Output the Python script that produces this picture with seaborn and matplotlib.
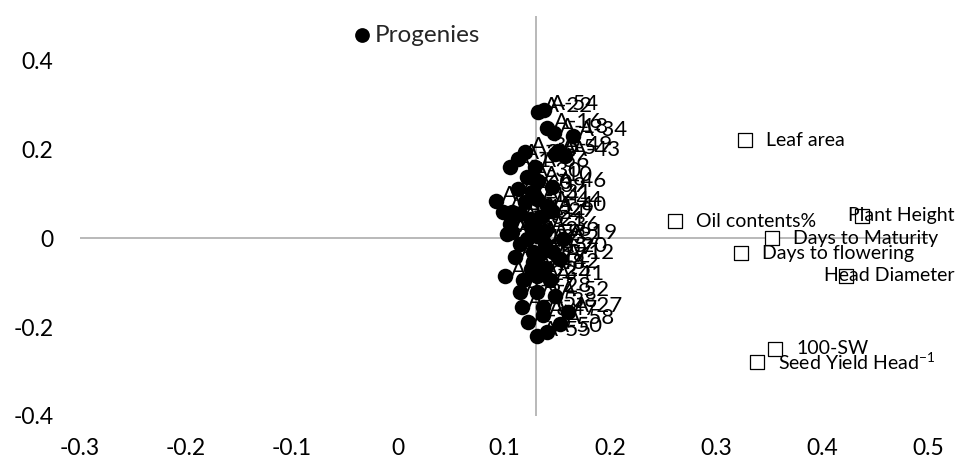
import matplotlib
matplotlib.use("Agg")
import matplotlib.pyplot as plt
import seaborn as sns
import pandas as pd

# ---------------- data ----------------
prog_x = [0.132, 0.138, 0.141, 0.165, 0.151, 0.158, 0.120, 0.113, 0.106, 0.122,
          0.132, 0.092, 0.126, 0.131, 0.120, 0.141, 0.145, 0.099, 0.108, 0.115,
          0.125, 0.134, 0.108, 0.125, 0.131, 0.103, 0.139, 0.156, 0.127, 0.146,
          0.127, 0.115, 0.139, 0.101, 0.118, 0.131, 0.143, 0.115, 0.131, 0.117,
          0.137, 0.137, 0.160, 0.153, 0.131, 0.141, 0.125, 0.139, 0.110, 0.123,
          0.148, 0.106, 0.129, 0.145, 0.153, 0.134, 0.122, 0.113, 0.147, 0.148]
prog_y = [0.285, 0.289, 0.249, 0.231, 0.197, 0.185, 0.194, 0.179, 0.160, 0.138,
          0.129, 0.084, 0.104, 0.088, 0.081, 0.072, 0.061, 0.059, 0.059, 0.054,
          0.043, 0.047, 0.014, 0.027, 0.005, 0.009, 0.016, -0.002, -0.032, -0.032,
          -0.054, -0.014, -0.014, -0.086, -0.093, -0.086, -0.093, -0.120, -0.120, -0.154,
          -0.154, -0.172, -0.165, -0.194, -0.221, -0.212, -0.070, -0.066, -0.043, -0.188,
          -0.131, 0.032, 0.160, 0.115, -0.047, -0.036, -0.002, 0.111, 0.236, 0.190]
prog_labels = ["A-22", "A-54", "A-16", "A-34", "A-49", "A-43", "A-33", "A-3", "A-1", "A-30",
               "A-10", "A-8", "A-39", "A-31", "A-14", "A-44", "A-40", "A-15", "A-2", "A-11",
               "A-24", "A-29", "A-6", "A-21", "A-26", "A-7", "A-36", "A-19", "A-35", "A-20",
               "A-17", "A-13", "A-32", "A-4", "A-23", "A-25", "A-41", "A-37", "A-28", "A-45",
               "A-38", "A-47", "A-27", "A-58", "A-55", "A-50", "A-48", "A-42", "A-51", "A-9",
               "A-52", "A-53", "A-56", "A-46", "A-12", "A-57", "A-59", "A-60", "A-18", "A-5"]

trait_names = ["Leaf area", "Oil contents%", "Plant Height", "Days to Maturity",
               "Days to flowering", "Head Diameter", "100-SW",
               r"Seed Yield Head$^{\mathregular{-1}}$"]
trait_x = [0.327, 0.261, 0.438, 0.353, 0.324, 0.423, 0.356, 0.339]
trait_y = [0.221, 0.038, 0.050, 0.000, -0.034, -0.084, -0.249, -0.278]

x_ticks = [-0.3, -0.2, -0.1, 0, 0.1, 0.2, 0.3, 0.4, 0.5]
y_ticks = [-0.4, -0.2, 0, 0.2, 0.4]
x_tick_labels = ["-0.3", "-0.2", "-0.1", "0", "0.1", "0.2", "0.3", "0.4", "0.5"]
y_tick_labels = ["-0.4", "-0.2", "0", "0.2", "0.4"]
v_axis_cross = 0.13

# ---------------- style ----------------
sns.set_style("white")
plt.rcParams["font.family"] = ["Lato", "DejaVu Sans"]
plt.rcParams["mathtext.fontset"] = "custom"
plt.rcParams["mathtext.rm"] = "Lato"

W, H = 959, 461
fig = plt.figure(figsize=(W / 100, H / 100), dpi=100)
ax = fig.add_axes([80 / W, 1 - 416 / H, (928 - 80) / W, (416 - 16) / H])

prog_df = pd.DataFrame({"x": prog_x, "y": prog_y, "label": prog_labels})
trait_df = pd.DataFrame({"x": trait_x, "y": trait_y, "name": trait_names})

axis_col = "#a6a6a6"
ax.axhline(0, color=axis_col, lw=1.1, zorder=1)
ax.axvline(v_axis_cross, color=axis_col, lw=1.1, zorder=1)

sns.scatterplot(data=prog_df, x="x", y="y", ax=ax, color="black", s=125,
                edgecolor="black", linewidth=0, zorder=3, label="Progenies")
sns.scatterplot(data=trait_df, x="x", y="y", ax=ax, marker="s", s=95,
                facecolor="white", edgecolor="black", linewidth=0.9, zorder=3,
                legend=False)

for _, r in prog_df.iterrows():
    ax.annotate(r["label"], (r["x"], r["y"]), xytext=(6, 6), textcoords="offset pixels",
                ha="left", va="center", fontsize=16, color="black", zorder=4)

trait_anns = []
for _, r in trait_df.iterrows():
    a = ax.annotate(r["name"], (r["x"], r["y"]), xytext=(21, 0), textcoords="offset pixels",
                    ha="left", va="center", fontsize=14, color="black", zorder=4,
                    annotation_clip=False)
    trait_anns.append(a)

ax.set_xlim(-0.3, 0.5)
ax.set_ylim(-0.4, 0.5)
ax.set_xticks(x_ticks)
ax.set_xticklabels(x_tick_labels)
ax.set_yticks(y_ticks)
ax.set_yticklabels(y_tick_labels)
ax.tick_params(axis="both", length=0, labelsize=16.5, colors="black")
ax.tick_params(axis="y", pad=19)
ax.tick_params(axis="x", pad=16)
ax.set_xlabel("")
ax.set_ylabel("")
for s in ax.spines.values():
    s.set_visible(False)

ax.legend(loc="center left", bbox_to_anchor=(352 / W, 1 - 35 / H),
          bbox_transform=fig.transFigure, frameon=False, fontsize=17.5,
          handletextpad=0.15, handlelength=0.8, borderpad=0, borderaxespad=0,
          markerscale=0.95)

# keep trait labels inside the figure (like the chart area in the source)
fig.canvas.draw()
for a in trait_anns:
    bb = a.get_window_extent()
    if bb.x1 > W - 4:
        dx = bb.x1 - (W - 4)
        a.xyann = (21 - dx, 0)

fig.savefig("out.png", dpi=100)
